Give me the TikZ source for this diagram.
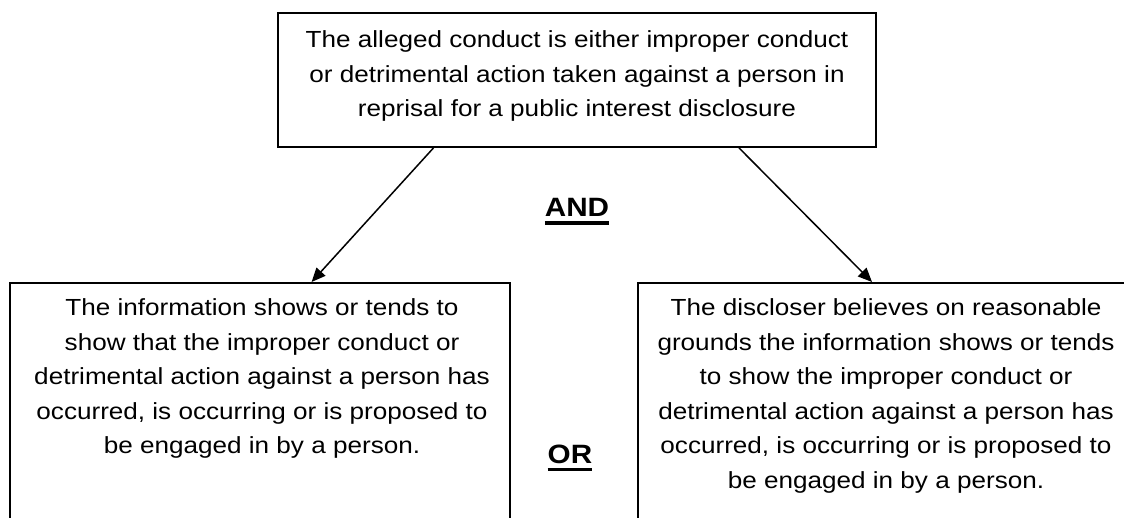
\documentclass[tikz,border=0pt]{standalone}
\usepackage{fontspec}
\setmainfont{Liberation Sans}[FakeStretch=1.12]
\newcommand\thickul[1]{\vtop{\hbox{#1}\kern4.5pt\hrule height 3.2pt}}
\usetikzlibrary{arrows.meta}
\usetikzlibrary{calc}

\begin{document}
\begin{tikzpicture}[x=1pt,y=-1pt,
        box/.style={draw, line width=1.8pt, inner sep=0pt},
        txt/.style={align=center, inner sep=0pt, font=\fontsize{23.3}{34.6}\selectfont},
        logic/.style={anchor=base, inner sep=0pt, font=\fontsize{26.5}{30}\selectfont\bfseries},
        arr/.style={-{Triangle[length=14pt,width=12pt]}, line width=1.5pt}]
        \useasboundingbox (0,0) rectangle (1124,518);
        \node[box, minimum width=598pt, minimum height=134pt] (top) at (577,80) {};
        \node[txt, anchor=north] (toptext) at (577,30.5) {The alleged conduct is either improper conduct\\or detrimental action taken against a person in\\reprisal for a public interest disclosure};
        \node[box, minimum width=500pt, minimum height=300pt, anchor=north] (left) at (260,282) {};
        \node[txt, anchor=north] (lefttext) at (262,298.5) {The information shows or tends to\\show that the improper conduct or\\detrimental action against a person has\\occurred, is occurring or is proposed to\\be engaged in by a person.};
        \node[box, minimum width=496pt, minimum height=300pt, anchor=north] (right) at (886,282) {};
        \node[txt, anchor=north] (righttext) at (886,298.5) {The discloser believes on reasonable\\grounds the information shows or tends\\to show the improper conduct or\\detrimental action against a person has\\occurred, is occurring or is proposed to\\be engaged in by a person.};
        \node[logic] (and) at (577,217) {\thickul{AND}};
        \node[logic] (or) at (570,463) {\thickul{OR}};
        \draw[arr] ($(top.south)+(-143.5,0)$) -- ($(left.north)+(51.6,0)$);
        \draw[arr] ($(top.south)+(162,0)$) -- ($(right.north)+(-14,0)$);
    \end{tikzpicture}
\end{document}
